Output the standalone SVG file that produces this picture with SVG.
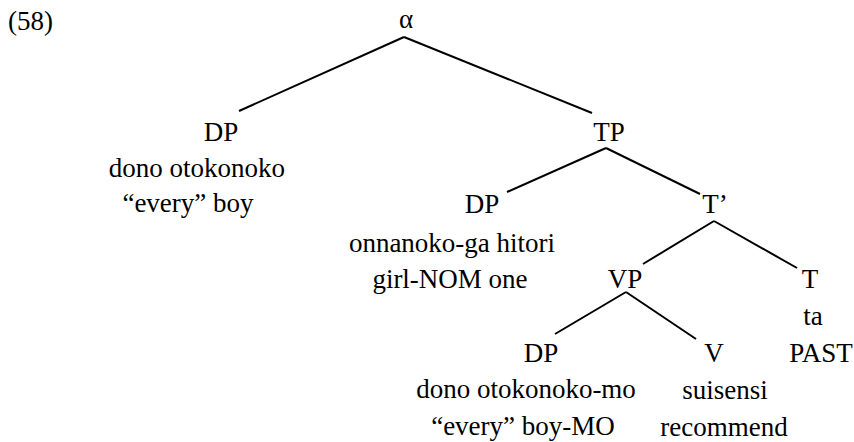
<svg xmlns="http://www.w3.org/2000/svg" width="854" height="442" viewBox="0 0 854 442">
<style>
.tx{font-family:'Liberation Serif','Times New Roman','DejaVu Serif',serif;font-size:27px;fill:#000;text-anchor:middle}
.tx .l{text-anchor:start}
line{stroke:#000;stroke-width:2}
</style>
<rect width="854" height="442" fill="#fff"/>
<g class="tx" font-family="Liberation Serif, DejaVu Serif, serif">
<text class="l" x="8" y="30">(58)</text>
<g id="alpha"><text x="406" y="28">α</text></g>
<g id="dp1"><text x="221" y="141">DP</text><text x="197" y="177">dono otokonoko</text><text x="188" y="212">“every” boy</text></g>
<g id="tp"><text x="609" y="141">TP</text></g>
<g id="dp2"><text x="482" y="213">DP</text><text x="452" y="252">onnanoko-ga hitori</text><text x="450" y="288">girl-NOM one</text></g>
<g id="tbar"><text x="715" y="213">T’</text></g>
<g id="vp"><text x="625" y="288">VP</text></g>
<g id="t"><text x="810" y="288">T</text><text x="813" y="325">ta</text><text x="821" y="362">PAST</text></g>
<g id="dp3"><text x="541" y="362">DP</text><text x="526" y="398">dono otokonoko-mo</text><text x="523" y="435">“every” boy-MO</text></g>
<g id="v"><text x="714" y="362">V</text><text x="725" y="399">suisensi</text><text x="724" y="436">recommend</text></g>
</g>
<g id="connectors">
<line x1="404" y1="37" x2="239" y2="111"/>
<line x1="404" y1="37" x2="592" y2="113"/>
<line x1="606" y1="148" x2="507" y2="192"/>
<line x1="606" y1="148" x2="700" y2="194"/>
<line x1="714" y1="221" x2="643" y2="264"/>
<line x1="714" y1="221" x2="797" y2="268"/>
<line x1="626" y1="292" x2="555" y2="334"/>
<line x1="626" y1="292" x2="696" y2="339"/>
</g>
</svg>
